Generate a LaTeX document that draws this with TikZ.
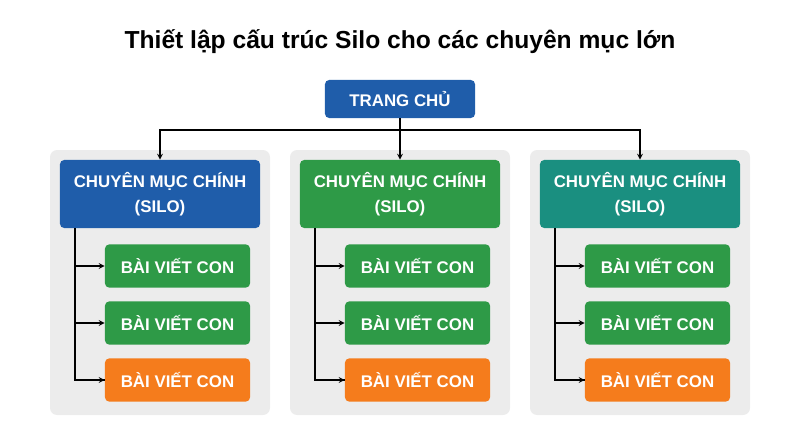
\documentclass[tikz,border=0pt]{standalone}
\usepackage{fontspec}
\setmainfont{Liberation Sans}
\usetikzlibrary{positioning}
\definecolor{siloblue}{HTML}{1F5DAA}
\definecolor{silogreen}{HTML}{2E9A47}
\definecolor{siloteal}{HTML}{1A8F80}
\definecolor{postorange}{HTML}{F57C1C}
\definecolor{panelgrey}{HTML}{ECECEC}
\tikzset{
  box/.style={rounded corners=3pt, text=white, font=\bfseries\fontsize{12}{15}\selectfont, align=center, inner sep=0pt},
  silo/.style={box, minimum width=5cm, minimum height=1.7cm},
  post/.style={box, minimum width=3.625cm, minimum height=1.08cm},
  panel/.style={fill=panelgrey, rounded corners=5pt},
  link/.style={-stealth, line width=0.9pt, black}
}
\begin{document}
\begin{tikzpicture}[x=0.025cm, y=-0.025cm]
	\useasboundingbox (0,0) rectangle (800,447);
	\node (title) at (400,42) {\bfseries\fontsize{17.5}{21}\selectfont Thiết lập cấu trúc Silo cho các chuyên mục lớn};
	\node[box, fill=siloblue, minimum width=3.75cm, minimum height=0.95cm] (home) at (400,99) {TRANG CHỦ};
	\coordinate (split) at (400,130);
	\draw[line width=0.9pt] (home.south) -- (split);
	\foreach \i/\x/\col in {1/160/siloblue, 2/400/silogreen, 3/640/siloteal} {
		\fill[panel] (\x-110,150) rectangle (\x+110,415);
		\node[silo, fill=\col] (silo\i) at (\x,194) {CHUYÊN MỤC CHÍNH\\[3pt](SILO)};
		\coordinate (turn\i) at (\x,130);
		\draw[link] (split) -- (turn\i) -- (silo\i.north);
		\node[post, fill=silogreen] (post\i a) at (\x+17.5,266) {BÀI VIẾT CON};
		\node[post, fill=silogreen] (post\i b) at (\x+17.5,323) {BÀI VIẾT CON};
		\node[post, fill=postorange] (post\i c) at (\x+17.5,380) {BÀI VIẾT CON};
		\coordinate (spine\i) at (\x-85,228);
		\draw[line width=0.9pt] (spine\i) |- (post\i c.west);
		\foreach \p in {a,b,c}
			\draw[link] (spine\i |- post\i\p.west) -- (post\i\p.west);
	}
\end{tikzpicture}
\end{document}
